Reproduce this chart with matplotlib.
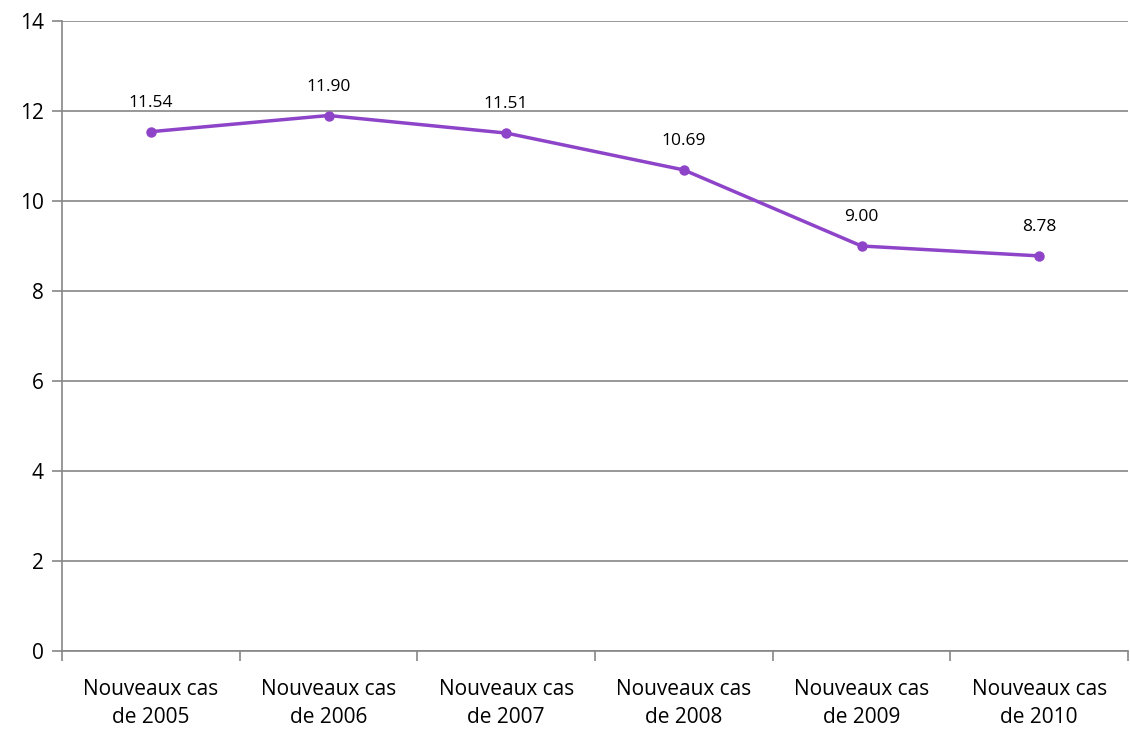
import matplotlib.pyplot as plt
import numpy as np

categories = ["Nouveaux cas\nde 2005", "Nouveaux cas\nde 2006", "Nouveaux cas\nde 2007",
              "Nouveaux cas\nde 2008", "Nouveaux cas\nde 2009", "Nouveaux cas\nde 2010"]
values = [11.54, 11.90, 11.51, 10.69, 9.00, 8.78]
yticks = [0, 2, 4, 6, 8, 10, 12, 14]

plt.rcParams['font.family'] = ['Open Sans', 'DejaVu Sans']
purple = '#8E44C8'
grey = '#868686'

fig = plt.figure(figsize=(11.30, 7.29), dpi=100)
ax = fig.add_axes([62/1130, 1 - 651/729, 1 - 62/1130 - 2/1130, (651 - 21)/729])

x = np.arange(len(values))
ax.plot(x, values, color=purple, lw=2.5, marker='o', ms=6.5, zorder=3)
for xi, v in zip(x, values):
    ax.annotate(f"{v:.2f}", (xi, v), xytext=(0, 15), textcoords='offset points',
                ha='center', va='bottom', fontsize=12.5)

ax.set_xlim(-0.5, len(values) - 0.5)
ax.set_ylim(0, 14)
ax.set_yticks(yticks)
ax.set_yticklabels([str(t) for t in yticks], fontsize=15)
ax.yaxis.grid(True, color=grey, lw=1.2)
ax.set_axisbelow(True)

ax.set_xticks(x)
ax.set_xticklabels(categories, fontsize=15, linespacing=1.45)
ax.set_xticks(np.arange(len(values) + 1) - 0.5, minor=True)
ax.tick_params(axis='x', which='major', length=0, pad=20)
ax.tick_params(axis='x', which='minor', length=7, color=grey, width=1.2)
ax.tick_params(axis='y', length=7, color=grey, width=1.2, pad=6)

for s in ('top', 'right'):
    ax.spines[s].set_visible(False)
for s in ('left', 'bottom'):
    ax.spines[s].set_color(grey)
    ax.spines[s].set_linewidth(1.2)

fig.savefig('out.png', dpi=100)
